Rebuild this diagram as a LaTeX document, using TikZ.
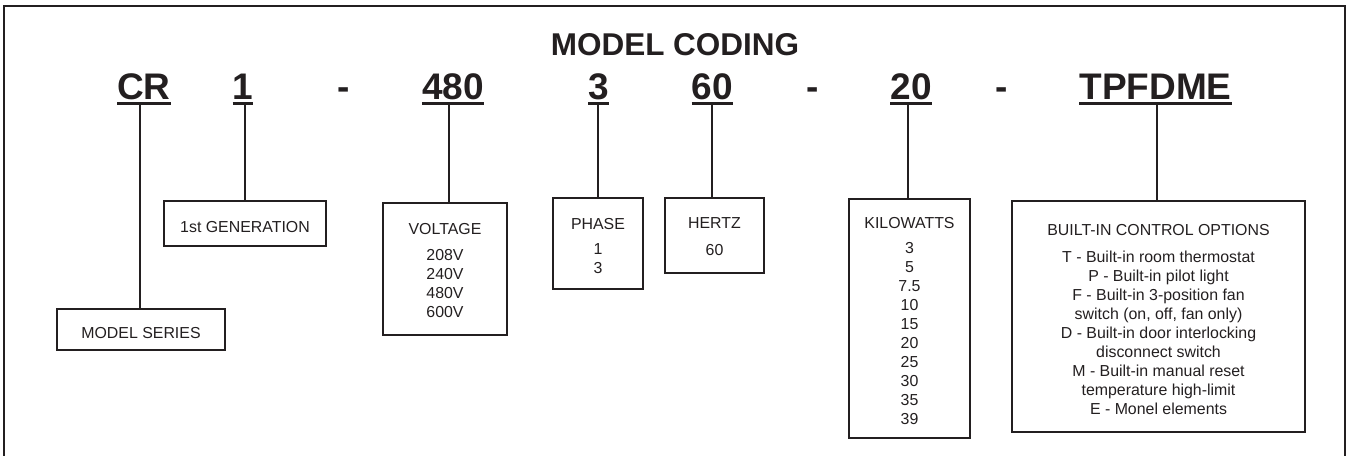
\documentclass[tikz,border=0pt]{standalone}
\usepackage{fontspec}
\setmainfont{Liberation Sans}
\definecolor{ink}{RGB}{35,31,32}
\begin{document}
\begin{tikzpicture}[x=1pt,y=-1pt,
  every node/.style={text=ink},
  frame/.style={draw=ink,line width=2pt},
  title/.style={font=\bfseries\fontsize{31.5}{36}\selectfont,inner sep=0pt,anchor=base},
  code/.style={font=\bfseries\fontsize{37}{44}\selectfont,inner sep=0pt,anchor=base},
  uline/.style={draw=ink,line width=3pt},
  conn/.style={draw=ink,line width=2pt},
  box/.style={draw=ink,line width=2.2pt,rectangle,inner sep=0pt,anchor=base,
    font=\fontsize{15.9}{19}\selectfont}
]
\useasboundingbox (0,0) rectangle (1348,455);
\draw[frame] (4,470) -- (4,6) -- (1345,6) -- (1345,470);

\node[title] (title) at (675,55) {MODEL CODING};

% code row
\node[code] (cr) at (144,99) {CR};
\node[code] (gen1) at (243,99) {1};
\node[code] (d1) at (343.5,99) {-};
\node[code] (v480) at (453,99) {480};
\node[code] (ph3) at (598.5,99) {3};
\node[code] (hz60) at (712.5,99) {60};
\node[code] (d2) at (812.5,99) {-};
\node[code] (kw20) at (911,99) {20};
\node[code] (d3) at (1001.5,99) {-};
\node[code] (opt) at (1155.5,99) {TPFDME};

\foreach \n in {cr,gen1,v480,ph3,hz60,kw20,opt}
  \draw[uline] ([yshift=-4.5pt]\n.base west) -- ([yshift=-4.5pt]\n.base east);

% boxes
\node[box,minimum width=168pt,text height=29pt,text depth=12pt] (ms) at (141,338) {MODEL SERIES};
\node[box,minimum width=162pt,text height=31pt,text depth=14pt] (gen) at (245,232) {1st GENERATION};
\node[box,minimum width=124pt,text height=31pt,text depth=101pt] (volt) at (445,234)
  {\begin{tabular}[t]{@{}c@{}}VOLTAGE\\[7pt]208V\\240V\\480V\\600V\end{tabular}};
\node[box,minimum width=90pt,text height=31pt,text depth=60pt] (phase) at (598,229)
  {\begin{tabular}[t]{@{}c@{}}PHASE\\[6pt]1\\3\end{tabular}};
\node[box,minimum width=99pt,text height=30pt,text depth=45pt] (hertz) at (714.5,228)
  {\begin{tabular}[t]{@{}c@{}}HERTZ\\[8pt]60\end{tabular}};
\node[box,minimum width=121pt,text height=29pt,text depth=210pt] (kw) at (909.5,228)
  {\begin{tabular}[t]{@{}c@{}}KILOWATTS\\[6pt]3\\5\\7.5\\10\\15\\20\\25\\30\\35\\39\end{tabular}};
\node[box,minimum width=293pt,text height=34pt,text depth=197pt] (opts) at (1158.5,235)
  {\begin{tabular}[t]{@{}c@{}}BUILT-IN CONTROL OPTIONS\\[8pt]
   T - Built-in room thermostat\\
   P - Built-in pilot light\\
   F - Built-in 3-position fan\\
   switch (on, off, fan only)\\
   D - Built-in door interlocking\\
   disconnect switch\\
   M - Built-in manual reset\\
   temperature high-limit\\
   E - Monel elements\end{tabular}};

% connectors
\draw[conn] ([xshift=-4pt,yshift=-4.5pt]cr.base) -- ([xshift=-4pt]cr.base |- ms.north);
\draw[conn] ([xshift=2pt,yshift=-4.5pt]gen1.base) -- ([xshift=2pt]gen1.base |- gen.north);
\draw[conn] ([xshift=-4pt,yshift=-4.5pt]v480.base) -- ([xshift=-4pt]v480.base |- volt.north);
\draw[conn] ([xshift=-0.5pt,yshift=-4.5pt]ph3.base) -- ([xshift=-0.5pt]ph3.base |- phase.north);
\draw[conn] ([xshift=-0.5pt,yshift=-4.5pt]hz60.base) -- ([xshift=-0.5pt]hz60.base |- hertz.north);
\draw[conn] ([xshift=-3pt,yshift=-4.5pt]kw20.base) -- ([xshift=-3pt]kw20.base |- kw.north);
\draw[conn] ([xshift=1.5pt,yshift=-4.5pt]opt.base) -- ([xshift=1.5pt]opt.base |- opts.north);
\end{tikzpicture}
\end{document}
